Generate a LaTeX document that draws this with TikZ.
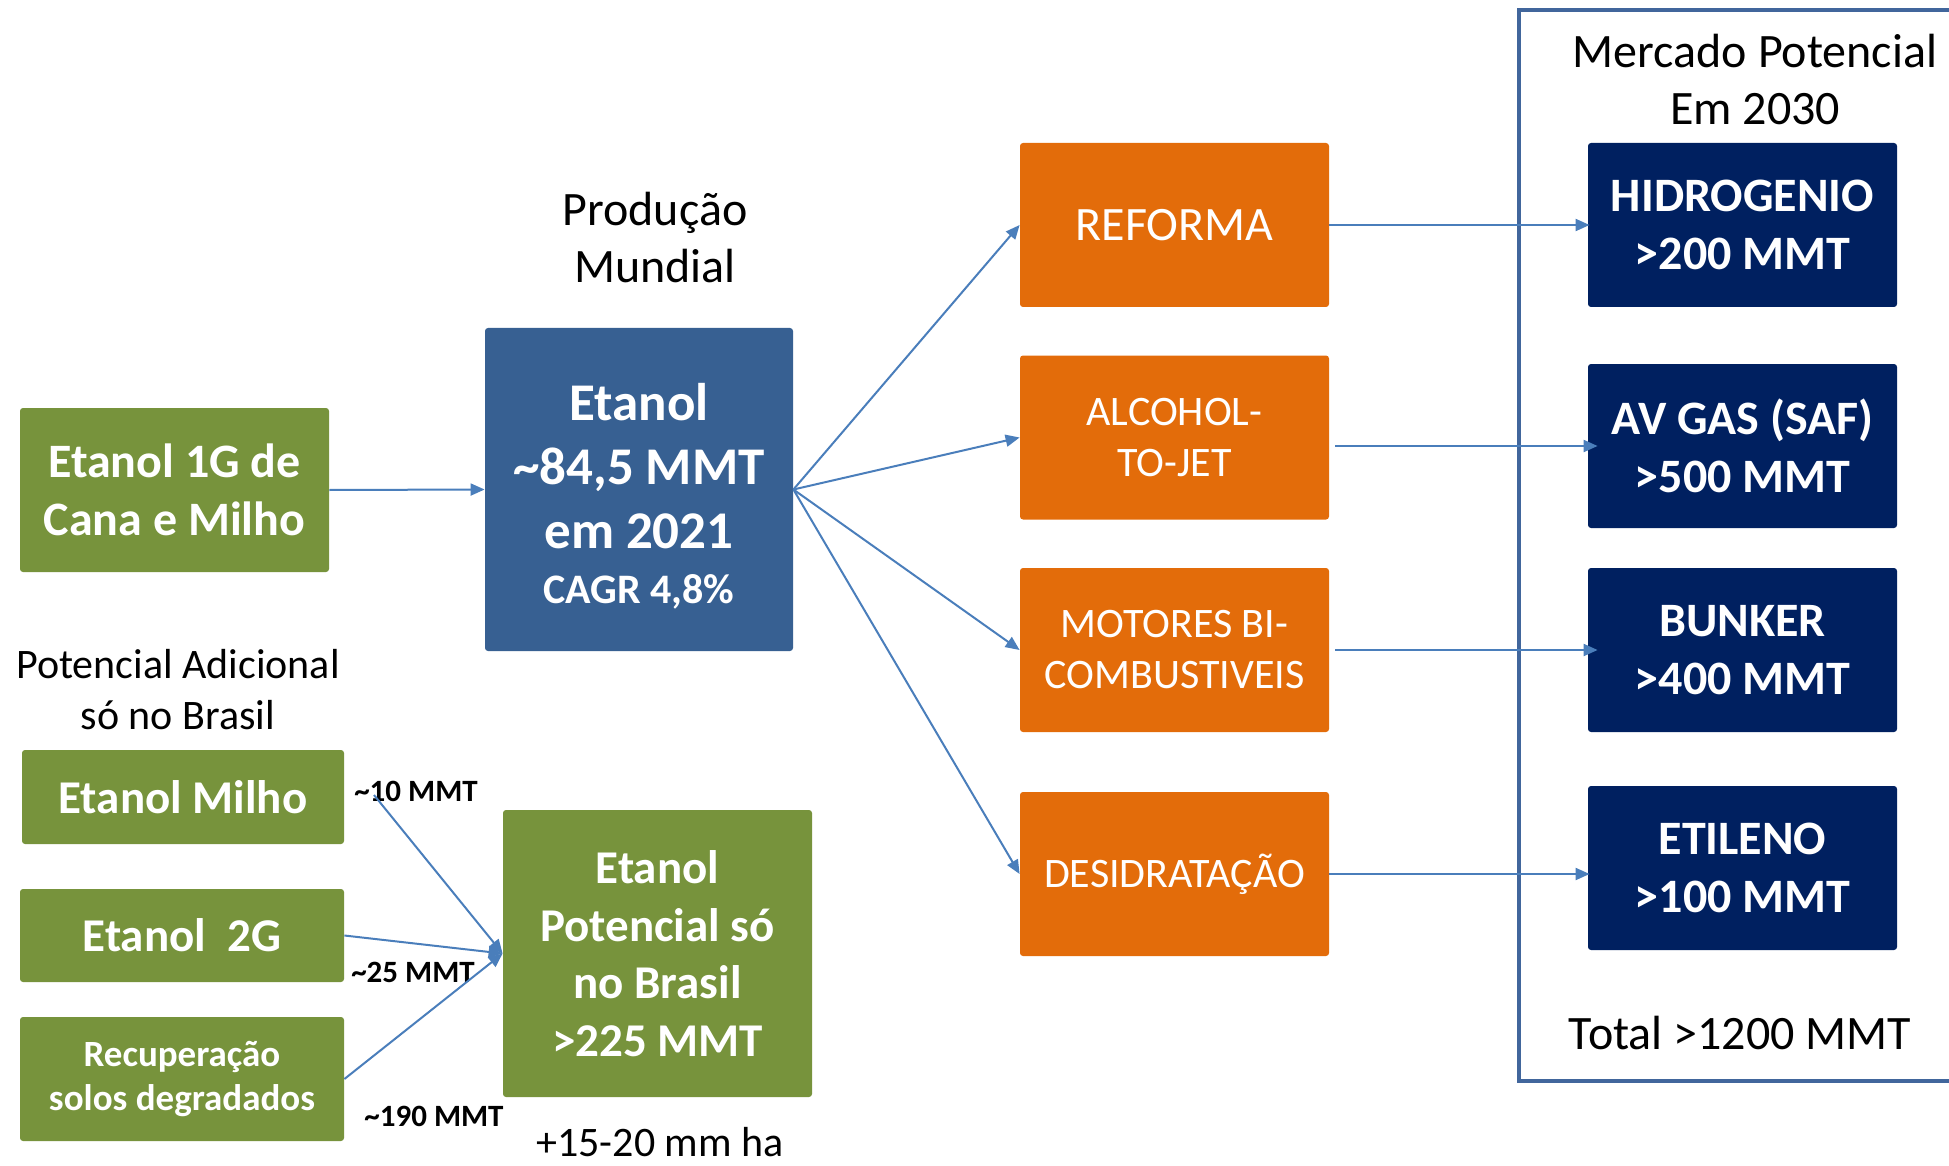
\documentclass[tikz,border=0pt]{standalone}
\usepackage{fontspec}
\setmainfont{Carlito}
\usetikzlibrary{arrows.meta,calc}
\definecolor{ogreen}{HTML}{77933C}
\definecolor{sblue}{HTML}{376092}
\definecolor{orng}{HTML}{E36C0A}
\definecolor{navyb}{HTML}{002060}
\definecolor{arrc}{HTML}{4A7EBB}
\definecolor{framec}{HTML}{41669C}
\begin{document}
\begin{tikzpicture}[x=0.5pt,y=-0.5pt,
  box/.style={rectangle, rounded corners=1.5pt, inner sep=0pt, align=center, text=white},
  gbox/.style={box, fill=ogreen},
  obox/.style={box, fill=orng, minimum width=154.5pt, minimum height=82pt, font=\fontsize{21}{25.5}\selectfont},
  nbox/.style={box, fill=navyb, minimum width=154.5pt, minimum height=82pt, font=\fontsize{24}{29}\selectfont\bfseries},
  arr/.style={draw=arrc, line width=1pt, -{Triangle[length=7pt,width=6pt]}},
  lbl/.style={inner sep=0pt, align=center, font=\fontsize{24}{28.5}\selectfont},
  mlbl/.style={inner sep=0pt, font=\fontsize{15.5}{18}\selectfont\bfseries}
]
\useasboundingbox (0,0) rectangle (1949,1166);

% upper flow
\node[gbox, minimum width=154.5pt, minimum height=82pt, font=\fontsize{24}{29}\selectfont\bfseries] (g1) at (174.5,490) {Etanol 1G de\\Cana e Milho};
\node[box, fill=sblue, minimum width=154pt, minimum height=161.5pt] (et) at (639,489.5) {};
\node[box, font=\fontsize{26.5}{32}\selectfont\bfseries] (ett) at ($(et.center)+(0,7)$) {Etanol\\\textasciitilde84,5 MMT\\em 2021\\[-4.5pt]{\fontsize{21}{25}\selectfont CAGR 4,8\%}};
\node[lbl] (prod) at (655,238) {Produção\\Mundial};

\node[obox, font=\fontsize{24}{29}\selectfont] (ref) at (1174.5,225) {REFORMA};
\node[obox] (alc) at (1174.5,437.5) {ALCOHOL-\\TO-JET};
\node[obox] (mot) at (1174.5,650) {MOTORES BI-\\COMBUSTIVEIS};
\node[obox] (des) at (1174.5,874) {DESIDRATAÇÃO};

\node[nbox] (hid) at (1742.5,225) {HIDROGENIO\\>200 MMT};
\node[nbox] (sav) at (1742.5,446) {AV GAS (SAF)\\>500 MMT};
\node[nbox] (bun) at (1742.5,650) {BUNKER\\>400 MMT};
\node[nbox] (eti) at (1742.5,868) {ETILENO\\>100 MMT};
\node[lbl] (merc) at (1755,80) {Mercado Potencial\\Em 2030};
\node[lbl] (tot) at (1740,1033) {Total >1200 MMT};
\draw[framec, line width=2pt] (1949,10) -- (1519,10) -- (1519,1081) -- (1949,1081);

% lower flow
\node[lbl, font=\fontsize{21}{25.5}\selectfont] (pad) at (178,690) {Potencial Adicional\\só no Brasil};
\node[gbox, minimum width=161pt, minimum height=47pt, font=\fontsize{23.5}{28}\selectfont\bfseries] (mil) at (183,797) {Etanol Milho};
\node[gbox, minimum width=162pt, minimum height=46.5pt, font=\fontsize{23.5}{28}\selectfont\bfseries] (g2) at (182,935.5) {Etanol\ \ 2G};
\node[gbox, minimum width=162pt, minimum height=62pt, font=\fontsize{18.5}{22}\selectfont\bfseries] (rec) at (182,1079) {Recuperação\\solos degradados};
\node[gbox, minimum width=154.5pt, minimum height=143.5pt, font=\fontsize{23.5}{28.75}\selectfont\bfseries] (pot) at (657.5,953.5) {Etanol\\Potencial só\\no Brasil\\>225 MMT};
\node[lbl, font=\fontsize{21}{25}\selectfont, anchor=base] (ha) at (660,1156) {+15-20 mm ha};

\node[mlbl] (l10) at (416,791) {\textasciitilde10 MMT};
\node[mlbl] (l25) at (413,972) {\textasciitilde25 MMT};
\node[mlbl] (l190) at (434,1116) {\textasciitilde190 MMT};

% connectors
\draw[arr] (g1.east) -- (et.west);
\draw[arr] (et.east) -- (ref.west);
\draw[arr] (et.east) -- (alc.west);
\draw[arr] (et.east) -- (mot.west);
\draw[arr] (et.east) -- (des.west);
\draw[arr] (ref.east) -- ([xshift=1pt]hid.west);
\draw[arr] ([xshift=3pt]alc.east |- sav.west) -- ([xshift=5pt]sav.west);
\draw[arr] ([xshift=3pt]mot.east) -- ([xshift=5pt]bun.west);
\draw[arr] (des.east) -- ([xshift=1pt]eti.west |- des.east);
\coordinate (m10) at (374,795);
\draw[arr] (m10) -- (pot.west);
\draw[arr] (g2.east) -- (pot.west);
\draw[arr] (rec.east) -- (pot.west);
\end{tikzpicture}
\end{document}
